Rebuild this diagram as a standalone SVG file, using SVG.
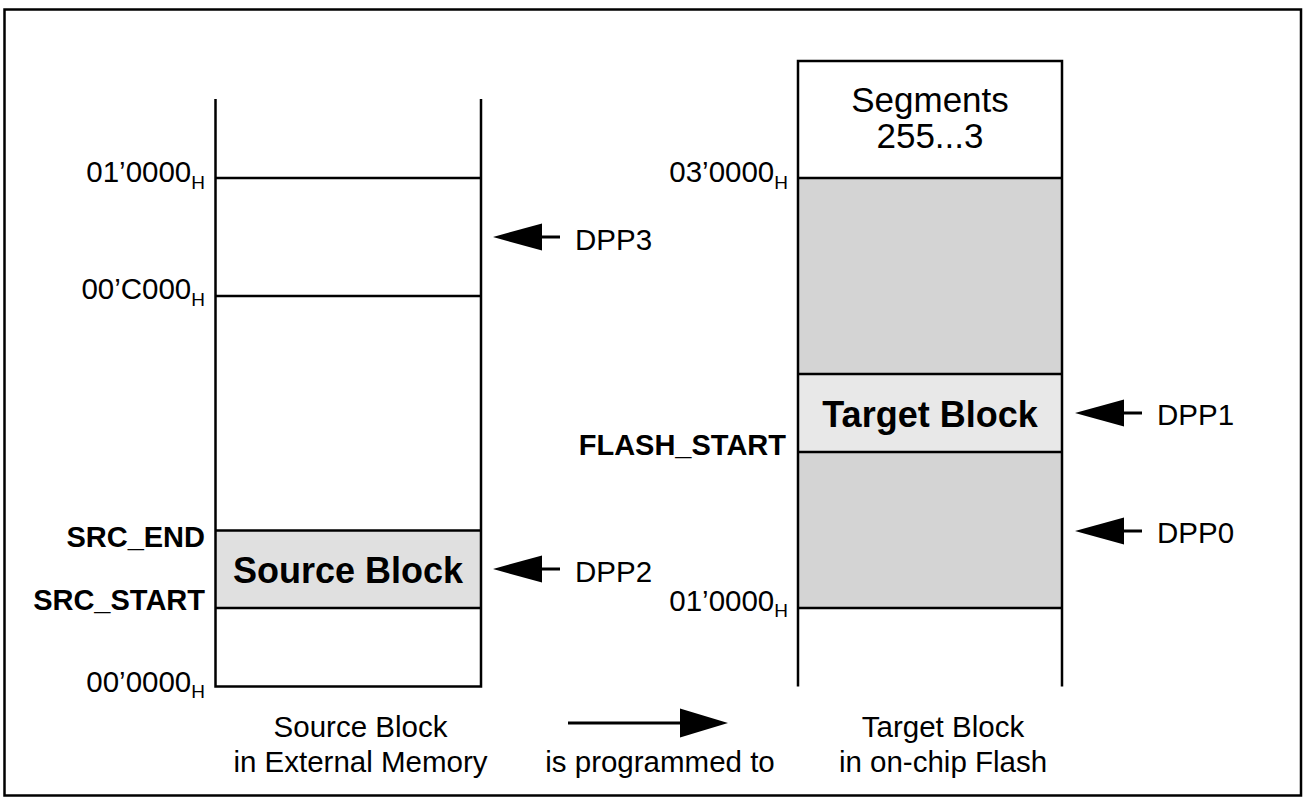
<svg xmlns="http://www.w3.org/2000/svg" xmlns:xlink="http://www.w3.org/1999/xlink" width="1305" height="800" viewBox="0 0 1305 800">
<style>
  text { font-family: "Liberation Sans", Arial, Helvetica, sans-serif; fill: #000; }
  .r { font-size: 29.5px; }
  .b { font-size: 29px; font-weight: bold; }
  .big { font-size: 35px; }
  .bigb { font-size: 36px; font-weight: bold; }
  .sub { font-size: 19px; }
  .ln { stroke: #000; stroke-width: 2.5; fill: none; }
  .dark { fill: #d4d4d4; }
  .light { fill: #e8e8e8; }
  .src { fill: #e0e0e0; }
  .cl { stroke: #000; stroke-width: 3; fill: none; }
</style>
<defs>
  <path id="hl" d="M0,0 L49,-13.5 L49,13.5 Z" fill="#000"/>
  <path id="hr" d="M0,0 L-48,-14.5 L-48,14.5 Z" fill="#000"/>
</defs>
<rect x="4.5" y="9.5" width="1296.5" height="786" fill="#fff" stroke="#000" stroke-width="2.5"/>

<g id="external-memory">
  <rect class="src" x="215.5" y="530.5" width="265.5" height="77.5"/>
  <path class="ln" d="M215.5,99 V686.5 H481 V99 M215.5,178 H481 M215.5,296 H481 M215.5,530.5 H481 M215.5,608 H481"/>
  <text class="bigb" x="348" y="583" text-anchor="middle">Source Block</text>
  <text class="r" x="205" y="182" text-anchor="end">01’0000<tspan class="sub" dy="7">H</tspan></text>
  <text class="r" x="205" y="299" text-anchor="end">00’C000<tspan class="sub" dy="7">H</tspan></text>
  <text class="b" x="205" y="547" text-anchor="end">SRC_END</text>
  <text class="b" x="205" y="610" text-anchor="end">SRC_START</text>
  <text class="r" x="205" y="692" text-anchor="end">00’0000<tspan class="sub" dy="6">H</tspan></text>
  <text class="r" x="360.5" y="737" text-anchor="middle">Source Block</text>
  <text class="r" x="360.5" y="772" text-anchor="middle">in External Memory</text>
</g>

<g id="flash-memory">
  <rect class="dark" x="798" y="178" width="264" height="196"/>
  <rect class="light" x="798" y="374" width="264" height="78"/>
  <rect class="dark" x="798" y="452" width="264" height="156"/>
  <path class="ln" d="M798,686.5 V61 H1062 V686.5 M798,178 H1062 M798,374 H1062 M798,452 H1062 M798,608 H1062"/>
  <text class="big" x="930" y="112" text-anchor="middle">Segments</text>
  <text class="big" x="930" y="148" text-anchor="middle">255...3</text>
  <text class="bigb" x="930" y="427" text-anchor="middle">Target Block</text>
  <text class="r" x="788" y="182" text-anchor="end">03’0000<tspan class="sub" dy="6.5">H</tspan></text>
  <text class="b" x="786" y="455" text-anchor="end">FLASH_START</text>
  <text class="r" x="788" y="611" text-anchor="end">01’0000<tspan class="sub" dy="6">H</tspan></text>
  <text class="r" x="943" y="737" text-anchor="middle">Target Block</text>
  <text class="r" x="943" y="772" text-anchor="middle">in on-chip Flash</text>
</g>

<g id="dpp-pointers">
  <text class="r" x="575" y="250">DPP3</text>
  <text class="r" x="575" y="582">DPP2</text>
  <text class="r" x="1157" y="425">DPP1</text>
  <text class="r" x="1157" y="543">DPP0</text>
</g>

<g id="connectors">
  <use xlink:href="#hl" x="493" y="237"/>
  <line class="cl" x1="540" y1="237" x2="560" y2="237"/>
  <use xlink:href="#hl" x="493" y="569"/>
  <line class="cl" x1="540" y1="569" x2="560" y2="569"/>
  <use xlink:href="#hl" x="1075" y="413"/>
  <line class="cl" x1="1122" y1="413" x2="1142" y2="413"/>
  <use xlink:href="#hl" x="1075" y="531"/>
  <line class="cl" x1="1122" y1="531" x2="1142" y2="531"/>
  <line class="cl" x1="568" y1="723" x2="682" y2="723"/>
  <use xlink:href="#hr" x="728" y="723"/>
  <text class="r" x="660" y="772" text-anchor="middle">is programmed to</text>
</g>
</svg>
